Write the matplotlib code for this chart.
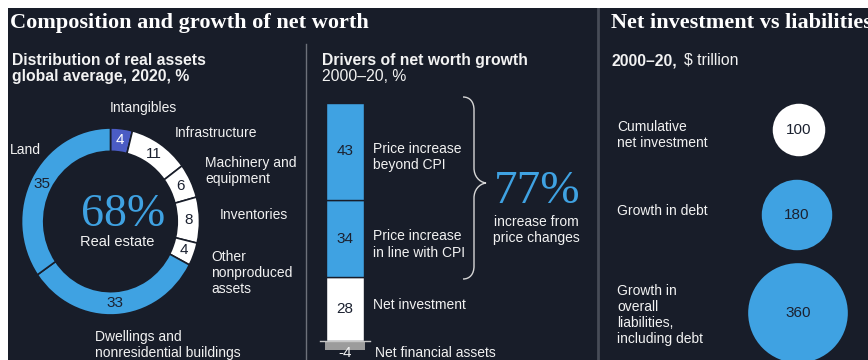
import numpy as np
import matplotlib
matplotlib.use("Agg")
import matplotlib.pyplot as plt
from matplotlib.path import Path
from matplotlib.patches import PathPatch, Rectangle

plt.rcParams["font.family"] = ["Liberation Sans", "DejaVu Sans"]

# Distribution of real assets, global average 2020, %
asset_labels = ["Intangibles", "Infrastructure", "Machinery and\nequipment", "Inventories",
                "Other\nnonproduced\nassets", "Dwellings and\nnonresidential buildings", "Land"]
asset_shares = [4, 11, 6, 8, 4, 33, 35]
real_estate_share = 68

# Drivers of net worth growth 2000-20, %
driver_labels = ["Price increase\nbeyond CPI", "Price increase\nin line with CPI",
                 "Net investment", "Net financial assets"]
driver_values = [43, 34, 28, -4]
price_change_total = 77

# Net investment vs liabilities 2000-20, $ trillion
flow_labels = ["Cumulative\nnet investment", "Growth in debt",
               "Growth in\noverall\nliabilities,\nincluding debt"]
flow_values = [100, 180, 360]

BG = "#181d29"
BLUE = "#3fa2e2"
PURPLE = "#4b5cc4"
WHITE = "#ffffff"
GREY = "#9c9c9c"
TXT = "#f2f2f2"
DARK = "#1b2130"

W, H = 868, 360
fig = plt.figure(figsize=(W / 100, H / 100), dpi=100)
fig.patch.set_facecolor(BG)

# full-figure canvas in pixel units (y downwards) for headings, dividers and bubbles
canvas = fig.add_axes([0, 0, 1, 1])
canvas.set_xlim(0, W)
canvas.set_ylim(H, 0)
canvas.axis("off")

serif = ["Liberation Serif", "DejaVu Serif"]
canvas.text(10, 28, "Composition and growth of net worth", family=serif, weight="bold",
            fontsize=16, color=WHITE, va="baseline")
canvas.text(611, 28, "Net investment vs liabilities", family=serif, weight="bold",
            fontsize=16, color=WHITE, va="baseline")

# panel dividers
canvas.plot([306, 306], [44, H], color="#6d717a", lw=1)
canvas.plot([598, 598], [0, H], color="#474c57", lw=2)

# ---- left panel: donut ----
canvas.text(12, 65, "Distribution of real assets", fontsize=11.3, weight="bold", color=TXT, va="baseline")
canvas.text(12, 81, "global average, 2020, %", fontsize=11.3, weight="bold", color=TXT, va="baseline")

cx, cy, rx, ry = 110.5, 221.5, 89, 93.5
dax = fig.add_axes([(cx - rx) / W, 1 - (cy + ry) / H, 2 * rx / W, 2 * ry / H])
asset_colors = [PURPLE, WHITE, WHITE, WHITE, WHITE, BLUE, BLUE]
wedges, _ = dax.pie(asset_shares, colors=asset_colors, startangle=90, counterclock=False,
                    radius=1, wedgeprops=dict(width=0.25, edgecolor=BG, linewidth=1.2))
dax.set_xlim(-1, 1)
dax.set_ylim(-1, 1)
dax.set_aspect("auto")
dax.axis("off")
for w, v, col in zip(wedges, asset_shares, asset_colors):
    th = np.deg2rad((w.theta1 + w.theta2) / 2)
    dax.text(0.875 * np.cos(th), 0.875 * np.sin(th), str(v), ha="center", va="center",
             fontsize=11, color=WHITE if col == PURPLE else DARK)

asset_label_pos = [(110, 108), (175, 133), (205, 171), (220, 215), (211, 273), (95, 345), (10, 150)]
for lab, (x, y) in zip(asset_labels, asset_label_pos):
    canvas.text(x, y, lab, fontsize=10, color=TXT, ha="left", va="center", linespacing=1.2)

canvas.text(123, 226, f"{real_estate_share}%", family=serif, fontsize=33, color=BLUE,
            ha="center", va="baseline")
canvas.text(117, 242, "Real estate", fontsize=10.5, color=TXT, ha="center", va="center")

# ---- middle panel: stacked bar ----
canvas.text(322, 65, "Drivers of net worth growth", fontsize=11.3, weight="bold", color=TXT, va="baseline")
canvas.text(322, 81, "2000–20, %", fontsize=11.3, color=TXT, va="baseline")

bx0, bx1, by_top, by_bot = 310, 380, 95, 360
zero_y, ppu = 341, 2.27
bax = fig.add_axes([bx0 / W, 1 - by_bot / H, (bx1 - bx0) / W, (by_bot - by_top) / H])
bax.set_xlim(0, bx1 - bx0)
bax.set_ylim(-(by_bot - zero_y) / ppu, (zero_y - by_top) / ppu)
bax.axis("off")

bar_colors = [BLUE, BLUE, WHITE, GREY]
bar_x = 35
bottom = 0
for i in [2, 1, 0]:
    v = driver_values[i]
    bax.bar(bar_x, v, bottom=bottom, width=38, color=bar_colors[i], edgecolor=BG, linewidth=1)
    mid = bottom + v / 2
    bax.text(bar_x, mid, str(v), ha="center", va="center", fontsize=11, color=DARK)
    bax.text(63, mid - 2.5 if "\n" in driver_labels[i] else mid + 2, driver_labels[i],
             ha="left", va="center", fontsize=10, color=TXT, linespacing=1.2)
    bottom += v
neg = driver_values[3]
bax.bar(bar_x, neg, bottom=0, width=40, color=bar_colors[3], linewidth=0)
bax.plot([10, 60], [0, 0], color="#c8c8c8", lw=1)
bax.text(bar_x, neg - 1.5, str(neg), ha="center", va="center", fontsize=11, color=TXT)
bax.text(65, neg - 1.5, driver_labels[3], ha="left", va="center", fontsize=10, color=TXT)

# curly brace grouping the two price components
verts = [(463, 97), (470, 97), (474, 102), (474, 110),
         (474, 168),
         (474, 176), (479, 182), (486, 183),
         (479, 184), (474, 190), (474, 198),
         (474, 266),
         (474, 274), (470, 279), (463, 279)]
codes = [Path.MOVETO, Path.CURVE4, Path.CURVE4, Path.CURVE4,
         Path.LINETO,
         Path.CURVE4, Path.CURVE4, Path.CURVE4,
         Path.CURVE4, Path.CURVE4, Path.CURVE4,
         Path.LINETO,
         Path.CURVE4, Path.CURVE4, Path.CURVE4]
canvas.add_patch(PathPatch(Path(verts, codes), facecolor="none", edgecolor="#d6d6d6", lw=1))

canvas.text(537, 203, f"{price_change_total}%", family=serif, fontsize=34, color=BLUE,
            ha="center", va="baseline")
canvas.text(536, 230, "increase from\nprice changes", fontsize=10, color=TXT, ha="center",
            va="center", linespacing=1.2)

# ---- right panel: area-scaled bubbles ----
canvas.text(612, 65, "2000–20,", fontsize=11.3, weight="bold", color=TXT, va="baseline")
canvas.text(684, 65, "$ trillion", fontsize=11.3, color=TXT, va="baseline")

bubble_x = [799, 797, 798]
bubble_y = [130, 215, 313]
label_y = [135, 211, 315]
bubble_colors = [WHITE, BLUE, BLUE]
canvas.scatter(bubble_x, bubble_y, s=np.array(flow_values) * 14.3, c=bubble_colors,
               edgecolors="none", zorder=3)
for x, y, ly, v, lab in zip(bubble_x, bubble_y, label_y, flow_values, flow_labels):
    canvas.text(x, y, str(v), ha="center", va="center", fontsize=11, color=DARK, zorder=4)
    canvas.text(617, ly, lab, ha="left", va="center", fontsize=10, color=TXT, linespacing=1.2)

# page margin
fig.patches.append(Rectangle((0, 1 - 8 / H), 1, 8 / H, transform=fig.transFigure,
                             facecolor=WHITE, edgecolor="none", zorder=10))
fig.patches.append(Rectangle((0, 0), 8 / W, 1, transform=fig.transFigure,
                             facecolor=WHITE, edgecolor="none", zorder=10))

fig.savefig("out.png", dpi=100, facecolor=fig.get_facecolor())
